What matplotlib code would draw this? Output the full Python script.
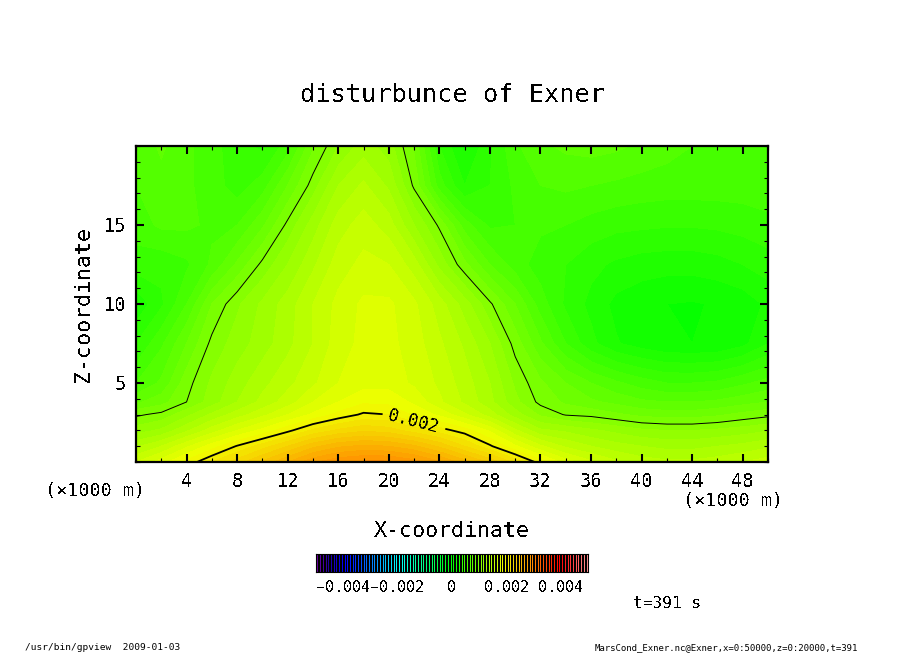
import numpy as np
import matplotlib
matplotlib.use("Agg")
import matplotlib.pyplot as plt
from matplotlib.colors import LinearSegmentedColormap
from matplotlib.ticker import MultipleLocator

# --------------------------------------------------
# Field (units of 1e-3)
# --------------------------------------------------
x_km = [0, 2, 4, 6, 8, 10, 12, 14, 16, 18, 20, 22, 24, 26, 28, 30, 32, 34, 36, 38, 40, 42, 44, 46, 48, 50]
z_km = [0, 1, 2, 3, 3.8, 5, 7.5, 10, 12.5, 15, 17.5, 20]

exner_z00 = [1.60, 1.75, 1.93, 2.10, 2.25, 2.42, 2.60, 2.78, 2.88, 2.92, 2.92, 2.85, 2.72, 2.55, 2.38, 2.17, 1.95, 1.75, 1.62, 1.52, 1.45, 1.42, 1.42, 1.45, 1.50, 1.55]
exner_z01 = [1.38, 1.50, 1.68, 1.85, 2.01, 2.15, 2.30, 2.47, 2.58, 2.62, 2.60, 2.52, 2.38, 2.20, 2.02, 1.82, 1.62, 1.48, 1.40, 1.34, 1.30, 1.27, 1.27, 1.30, 1.33, 1.38]
exner_z02 = [1.15, 1.22, 1.38, 1.55, 1.70, 1.83, 1.97, 2.12, 2.22, 2.28, 2.25, 2.15, 2.05, 1.95, 1.78, 1.52, 1.32, 1.28, 1.22, 1.17, 1.12, 1.10, 1.10, 1.12, 1.15, 1.19]
exner_z03 = [0.98, 1.03, 1.17, 1.32, 1.45, 1.57, 1.70, 1.82, 1.93, 2.02, 2.00, 1.88, 1.78, 1.62, 1.45, 1.25, 1.08, 0.99, 0.97, 0.92, 0.87, 0.85, 0.85, 0.88, 0.93, 0.97]
exner_z04 = [0.78, 0.86, 1.00, 1.15, 1.30, 1.43, 1.55, 1.70, 1.80, 1.88, 1.87, 1.78, 1.62, 1.48, 1.33, 1.13, 0.97, 0.88, 0.82, 0.77, 0.72, 0.70, 0.70, 0.72, 0.76, 0.80]
exner_z05 = [0.60, 0.72, 0.96, 1.12, 1.25, 1.37, 1.47, 1.58, 1.70, 1.76, 1.76, 1.68, 1.58, 1.45, 1.30, 1.08, 0.92, 0.80, 0.70, 0.62, 0.55, 0.50, 0.50, 0.52, 0.58, 0.64]
exner_z06 = [0.40, 0.58, 0.80, 1.03, 1.15, 1.25, 1.37, 1.50, 1.65, 1.73, 1.73, 1.65, 1.52, 1.38, 1.20, 0.96, 0.72, 0.50, 0.33, 0.21, 0.15, 0.11, 0.10, 0.11, 0.17, 0.30]
exner_z07 = [0.22, 0.38, 0.60, 0.90, 1.08, 1.22, 1.35, 1.50, 1.63, 1.72, 1.72, 1.62, 1.45, 1.25, 1.02, 0.80, 0.55, 0.38, 0.27, 0.17, 0.13, 0.10, 0.09, 0.11, 0.14, 0.22]
exner_z08 = [0.45, 0.43, 0.48, 0.62, 0.82, 1.03, 1.20, 1.38, 1.55, 1.63, 1.60, 1.45, 1.17, 0.93, 0.70, 0.55, 0.45, 0.40, 0.33, 0.28, 0.25, 0.24, 0.24, 0.26, 0.30, 0.35]
exner_z09 = [0.55, 0.62, 0.62, 0.58, 0.60, 0.78, 1.03, 1.25, 1.45, 1.55, 1.45, 1.20, 0.98, 0.65, 0.48, 0.50, 0.52, 0.50, 0.46, 0.43, 0.42, 0.41, 0.41, 0.42, 0.44, 0.47]
exner_z10 = [0.60, 0.66, 0.62, 0.55, 0.45, 0.55, 0.80, 1.05, 1.30, 1.42, 1.28, 0.98, 0.55, 0.30, 0.40, 0.52, 0.60, 0.62, 0.60, 0.58, 0.56, 0.55, 0.55, 0.55, 0.55, 0.56]
exner_z11 = [0.62, 0.72, 0.62, 0.55, 0.42, 0.38, 0.55, 0.88, 1.10, 1.25, 1.15, 0.88, 0.40, 0.18, 0.38, 0.58, 0.68, 0.72, 0.74, 0.72, 0.68, 0.64, 0.60, 0.58, 0.58, 0.58]

x_ticks = [4, 8, 12, 16, 20, 24, 28, 32, 36, 40, 44, 48]
z_ticks = [5, 10, 15]
cbar_ticks = [-0.004, -0.002, 0, 0.002, 0.004]
cbar_labels = ["\u22120.004", "\u22120.002", "0", "0.002", "0.004"]

# rainbow used by the plot: value (1e-3) -> colour
rainbow_vals = [-5, -4.6, -4, -2, 0, 1.9, 2.9, 4, 5]
rainbow_cols = ["#6a00a0", "#2000a0", "#0000ff", "#00ffff", "#00ff00", "#f0ff00", "#ff9600", "#ff0000", "#ff9090"]

W, H = 904, 654
plt.rcParams["font.family"] = "DejaVu Sans Mono"
plt.rcParams["text.antialiased"] = False


def px_axes(fig, x0, y0, x1, y1):
    return fig.add_axes([x0 / W, 1 - y1 / H, (x1 - x0) / W, (y1 - y0) / H])


field = np.array([exner_z00, exner_z01, exner_z02, exner_z03, exner_z04, exner_z05,
                  exner_z06, exner_z07, exner_z08, exner_z09, exner_z10, exner_z11])

cmap = LinearSegmentedColormap.from_list(
    "gpview", [((v + 5) / 10, c) for v, c in zip(rainbow_vals, rainbow_cols)], N=100)

fig = plt.figure(figsize=(W / 100, H / 100), dpi=100)

# --------------------------------------------------
# Main panel
# --------------------------------------------------
ax = px_axes(fig, 136, 146, 768, 462)
levels = np.linspace(-5, 5, 101)
ax.contourf(x_km, z_km, field, levels=levels, cmap=cmap, vmin=-5, vmax=5, antialiased=False)
ax.contour(x_km, z_km, field, levels=[1.0], colors="k", linewidths=0.7, antialiased=True)
thick = ax.contour(x_km, z_km, field, levels=[2.0], colors="k", linewidths=1.3, antialiased=True)
ax.clabel(thick, fmt={2.0: "0.002"}, fontsize=12.5, inline=True, inline_spacing=6, manual=[(22, 2.6)])

ax.set_xlim(0, 50)
ax.set_ylim(0, 20)
ax.set_xticks(x_ticks)
ax.set_yticks(z_ticks)
ax.xaxis.set_minor_locator(MultipleLocator(2))
ax.yaxis.set_minor_locator(MultipleLocator(1))
ax.tick_params(which="major", direction="in", top=True, right=True, length=6, width=1.5, labelsize=13.4, pad=7)
ax.tick_params(which="minor", direction="in", top=True, right=True, length=3, width=0.8)
for spine in ax.spines.values():
    spine.set_linewidth(1.6)

# --------------------------------------------------
# Colour bar, one thin stripe per level on black
# --------------------------------------------------
cax = px_axes(fig, 316, 554, 588, 572)
cax.set_facecolor("k")
stripes = (levels[:-1] + levels[1:]) / 2
cax.vlines(stripes / 1000, 0, 1, colors=cmap((stripes + 5) / 10), linewidth=0.72, antialiased=False)
cax.set_xlim(-0.005, 0.005)
cax.set_ylim(0, 1)
cax.set_yticks([])
cax.set_xticks(cbar_ticks, cbar_labels)
cax.tick_params(length=0, labelsize=10.8, pad=6)

# --------------------------------------------------
# Text
# --------------------------------------------------
fig.text(453 / W, 1 - 95 / H, "disturbunce of Exner", fontsize=18.2, ha="center", va="center")
fig.text(83 / W, 1 - 304 / H, "Z-coordinate", fontsize=15.6, rotation=90, ha="center", va="center")
fig.text(452 / W, 1 - 531 / H, "X-coordinate", fontsize=15.6, ha="center", va="center")
fig.text(95 / W, 1 - 491 / H, "(\u00d71000 m)", fontsize=13.2, ha="center", va="center")
fig.text(733 / W, 1 - 501 / H, "(\u00d71000 m)", fontsize=13.2, ha="center", va="center")
fig.text(667 / W, 1 - 603 / H, "t=391 s", fontsize=11.6, ha="center", va="center")
fig.text(25 / W, 1 - 648 / H, "/usr/bin/gpview  2009-01-03", fontsize=6.8, ha="left", va="center", antialiased=True)
fig.text(858 / W, 1 - 648 / H, "MarsCond_Exner.nc@Exner,x=0:50000,z=0:20000,t=391", fontsize=6.5, ha="right", va="center", antialiased=True)

fig.savefig("out.png", dpi=100)
